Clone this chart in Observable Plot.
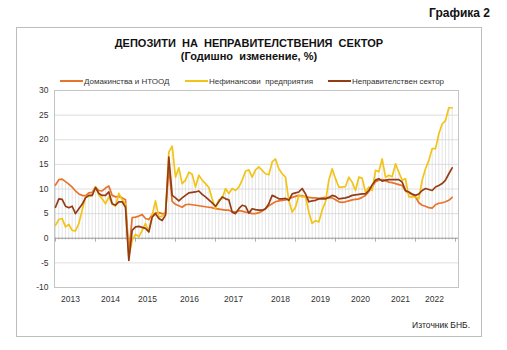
<!DOCTYPE html>
<html><head><meta charset="utf-8">
<script src="https://cdn.jsdelivr.net/npm/d3@7"></script>
<script src="https://cdn.jsdelivr.net/npm/@observablehq/plot@0.6"></script>
<style>
body{margin:0;background:#fff;font-family:Arial,"Liberation Sans",sans-serif;}
#wrap{position:relative;width:507px;height:350px;overflow:hidden;background:#fff;}
#fig{position:absolute;right:17px;top:6px;font-size:12px;font-weight:bold;color:#111;}
#box{position:absolute;left:16px;top:27px;width:464px;height:308px;border:1px solid #bdbdbd;}
#title{position:absolute;left:16px;width:466px;top:37px;text-align:center;font-size:11px;font-weight:bold;color:#111;white-space:pre;line-height:13px;}
#legend{position:absolute;top:77px;left:0;width:507px;height:12px;font-size:8px;color:#333;}
.li{position:absolute;top:0;white-space:pre;line-height:10px;}
.li i{display:inline-block;width:23px;height:0;border-top:2px solid;vertical-align:middle;margin-right:1px;position:relative;top:-1px;}
#chart{position:absolute;left:0;top:80px;}
#src{position:absolute;right:37px;top:320px;font-size:8.5px;color:#222;}
</style></head><body>
<div id="wrap">
  <div id="fig">Графика 2</div>
  <div id="box"></div>
  <div id="title">ДЕПОЗИТИ  НА  НЕПРАВИТЕЛСТВЕНИЯ  СЕКТОР
(Годишно  изменение, %)</div>
  <div id="legend"></div>
  <div id="chart"></div>
  <div id="src">Източник БНБ.</div>
</div>
<script>
// Monthly index 0 = Jan 2013 ... 119 = Dec 2022
const seriesNames = ["Домакинства и НТООД", "Нефинансови  предприятия", "Неправителствен сектор"];
const seriesColors = ["#e8742c", "#f2c417", "#943c16"];

const households = [
 10.8,11.9,12.0,11.5,11.0,10.4,9.6,9.0,8.7,8.6,9.2,9.3,
 10.4,9.7,9.6,10.2,10.6,8.7,8.4,8.5,8.2,7.8,-3.0,4.2,
 4.3,4.5,4.8,4.0,3.8,4.8,5.1,5.2,5.0,5.0,14.5,7.5,
 6.9,6.6,6.3,6.8,6.9,6.8,6.7,6.6,6.5,6.4,6.3,6.2,
 6.0,5.9,5.8,5.7,5.7,5.4,5.3,5.6,5.5,5.3,5.2,5.0,
 5.0,5.2,5.5,6.0,6.6,7.0,7.4,7.6,7.7,7.8,8.0,8.3,
 8.5,8.7,8.6,8.4,8.3,8.2,8.2,8.1,8.2,8.3,8.2,8.2,
 7.8,7.4,7.3,7.4,7.6,7.8,7.9,8.0,8.3,8.7,9.5,10.4,
 11.5,11.8,11.9,11.7,11.4,11.3,11.1,10.9,10.7,9.6,9.2,8.9,
 8.4,7.2,6.7,6.5,6.2,6.1,6.8,7.1,7.2,7.4,7.7,8.3
];
const nonFinancial = [
 2.6,3.8,4.0,2.3,2.8,1.6,1.5,3.0,5.7,8.4,8.5,8.7,
 10.5,8.8,8.0,7.0,8.4,7.0,6.5,9.1,7.8,6.9,-3.8,-0.4,
 0.8,0.3,1.6,3.0,1.3,4.7,7.6,4.3,4.5,5.0,17.5,18.7,
 12.4,14.3,11.1,11.8,13.4,13.0,10.4,12.8,11.8,11.1,10.3,8.0,
 6.0,7.8,8.0,10.1,9.1,10.1,9.7,10.4,11.8,13.6,13.9,12.4,
 13.9,14.5,13.8,13.1,12.9,15.5,16.1,14.1,13.1,12.4,7.7,5.3,
 6.3,8.7,8.4,8.5,5.3,3.0,3.6,3.3,5.7,7.4,11.8,14.1,
 12.1,10.4,10.4,10.5,12.4,11.4,9.7,12.4,12.2,9.4,10.4,9.7,
 13.8,13.5,16.1,12.4,12.8,12.5,15.1,13.4,11.8,12.1,8.4,8.4,
 8.4,8.0,11.8,14.1,15.8,18.2,18.2,21.2,23.2,23.9,26.5,26.5
];
const nonGovernment = [
 6.3,8.0,7.9,6.5,6.2,6.5,5.0,6.0,6.9,8.2,8.7,8.7,
 10.3,9.1,8.7,8.7,9.4,7.0,6.7,7.4,7.4,6.3,-4.5,1.6,
 2.3,2.4,2.2,2.0,1.3,4.3,5.0,4.0,3.6,4.7,16.5,8.7,
 8.2,7.6,8.2,8.7,9.2,9.3,9.4,9.6,8.9,8.4,7.8,7.2,
 6.5,7.4,8.4,8.0,7.8,5.3,5.0,6.0,6.7,6.5,5.1,6.0,
 5.8,5.7,5.7,6.0,7.0,8.7,8.4,8.0,8.0,8.1,7.7,9.0,
 9.2,9.4,10.1,9.0,7.4,7.6,7.7,8.0,8.0,8.0,8.3,8.7,
 8.5,8.0,8.1,8.2,8.4,8.7,8.8,8.9,9.0,9.0,9.7,10.8,
 11.8,12.1,11.6,11.8,11.9,11.9,11.9,11.9,11.4,9.7,9.4,9.0,
 8.7,9.0,9.7,10.1,9.9,9.7,10.4,10.7,11.1,11.8,13.1,14.3
];
const yTicks = [-10,-5,0,5,10,15,20,25,30];
const yearLabels = ["2013","2014","2015","2016","2017","2018","2019","2020","2021","2022"];
const yearLabelPos = [4.5,16.5,27.6,40.2,53.4,67.5,79.5,91.5,103.5,113.7];
const yearTickPos = [0,12,24,36,48,60,72,84,96,108,120];

// legend
const legendX = [60, 185, 328];
const lg = document.getElementById("legend");
seriesNames.forEach((n, k) => {
  const s = document.createElement("span");
  s.className = "li";
  s.style.left = legendX[k] + "px";
  s.innerHTML = `<i style="border-color:${seriesColors[k]}"></i>${n}`;
  lg.appendChild(s);
});

const months = households.map((_, i) => i);
const rows = months.map(i => ({
  i, hh: households[i], nf: nonFinancial[i], ng: nonGovernment[i],
  top: Math.max(households[i], nonFinancial[i], nonGovernment[i])
}));
const labelRows = yearLabels.map((t, k) => ({t, x: yearLabelPos[k]}));

const chart = Plot.plot({
  width: 507, height: 230,
  marginLeft: 54, marginRight: 49, marginTop: 10, marginBottom: 23,
  style: {fontFamily: 'Arial, "Liberation Sans", sans-serif', fontSize: "8.5px", background: "transparent", color: "#333"},
  x: {domain: [-0.3, 120.9], axis: null},
  y: {domain: [-10, 30], axis: null},
  marks: [
    Plot.gridY(yTicks, {stroke: "#d6d6d6", strokeOpacity: 1, strokeWidth: 0.8}),
    Plot.ruleX(rows, {x: "i", y1: 0, y2: "top", stroke: "#d4d4d4", strokeWidth: 0.6}),
    Plot.ruleY([0], {stroke: "#9a9a9a", strokeWidth: 0.9}),
    Plot.ruleX(months, {x: d => d, y1: 0, y2: -0.35, stroke: "#9a9a9a", strokeWidth: 0.6}),
    Plot.ruleX(yearTickPos, {x: d => d, y1: 0, y2: -0.8, stroke: "#9a9a9a", strokeWidth: 0.8}),
    Plot.frame({stroke: "#c4c4c4"}),
    Plot.line(rows, {x: "i", y: "hh", stroke: seriesColors[0], strokeWidth: 1.7}),
    Plot.line(rows, {x: "i", y: "nf", stroke: seriesColors[1], strokeWidth: 1.7}),
    Plot.line(rows, {x: "i", y: "ng", stroke: seriesColors[2], strokeWidth: 1.7}),
    Plot.axisY(yTicks, {tickSize: 0, tickPadding: 6, tickFormat: d => String(d), fontSize: 8.5, fill: "#333", label: null}),
    Plot.text(labelRows, {x: "x", y: -10, text: "t", dy: 12, fontSize: 8.5, fill: "#333"})
  ]
});
document.getElementById("chart").appendChild(chart);
</script>
</body></html>
